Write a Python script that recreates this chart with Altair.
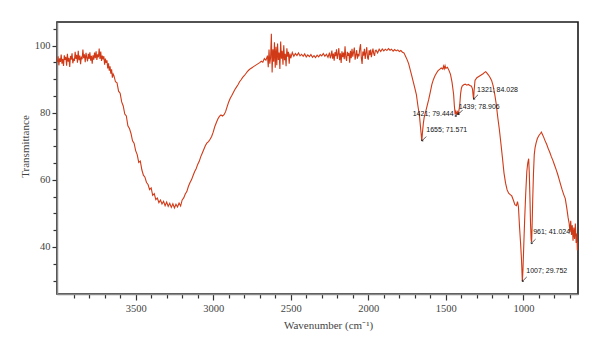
import altair as alt
import pandas as pd

# ---- spectrum (wavenumber cm-1, transmittance %) ----
wn = [
    4005, 4000, 3995, 3990, 3985, 3980, 3975, 3970, 3965, 3960, 3955, 3950, 3945, 3940, 3935,
    3930, 3925, 3920, 3915, 3910, 3905, 3900, 3895, 3890, 3885, 3880, 3875, 3870, 3865, 3860,
    3855, 3850, 3845, 3840, 3835, 3830, 3825, 3820, 3815, 3810, 3805, 3800, 3795, 3790, 3785,
    3780, 3775, 3770, 3765, 3760, 3755, 3750, 3745, 3740, 3735, 3730, 3725, 3720, 3715, 3710,
    3705, 3700, 3695, 3690, 3685, 3680, 3675, 3670, 3665, 3660, 3655, 3650, 3645,
    3640, 3630, 3620, 3610, 3600, 3590, 3580, 3570, 3560, 3550, 3540, 3530, 3520, 3510, 3500,
    3490, 3480, 3470, 3460, 3450, 3440, 3430, 3420, 3410, 3400, 3390, 3380, 3370, 3360, 3350,
    3340, 3330, 3320, 3310, 3300, 3290, 3280, 3270, 3260, 3250, 3240, 3230, 3220, 3210, 3200,
    3190, 3180, 3170, 3160, 3150, 3140, 3130, 3120, 3110, 3100, 3090, 3080, 3070, 3060, 3050,
    3040, 3030, 3020, 3010, 3000, 2990, 2980, 2970, 2960, 2950, 2940, 2930, 2920, 2910, 2900,
    2890, 2880, 2870, 2860, 2850, 2840, 2830, 2820, 2810, 2800, 2790, 2780, 2770, 2760, 2750,
    2740, 2730, 2720, 2710, 2700, 2690, 2680, 2670, 2660, 2650, 2645, 2640, 2635, 2630, 2625,
    2620, 2615, 2610, 2605, 2600, 2595, 2590, 2585, 2580, 2575, 2570, 2565, 2560, 2555, 2550,
    2545, 2540, 2535, 2530, 2525, 2520, 2515, 2510, 2505, 2500, 2490, 2480, 2470, 2460, 2450,
    2440, 2430, 2420, 2410, 2400, 2390, 2380, 2370, 2360, 2350, 2340, 2330, 2320, 2310, 2300,
    2290, 2280, 2270, 2260,
    2250, 2245, 2240, 2235, 2230, 2225, 2220, 2215, 2210, 2205, 2200, 2195, 2190, 2185, 2180,
    2175, 2170, 2165, 2160, 2155, 2150, 2145, 2140, 2135, 2130, 2125, 2120, 2115, 2110, 2105,
    2100, 2095, 2090, 2085, 2080, 2075, 2070, 2065, 2060, 2055, 2050, 2045, 2040, 2035, 2030,
    2025, 2020, 2015, 2010, 2005, 2000, 1995, 1990, 1985, 1980, 1975, 1970, 1965, 1960, 1955,
    1950, 1940, 1930, 1920, 1910, 1900, 1890, 1880, 1870, 1860, 1850,
    1840, 1830, 1820, 1810, 1800, 1790, 1780, 1770, 1760, 1750, 1740, 1730, 1720, 1710, 1700,
    1690, 1680, 1670, 1665, 1660, 1655, 1650, 1645, 1640, 1630, 1620, 1610, 1600, 1590, 1580,
    1570, 1560, 1550, 1540, 1530, 1520, 1515, 1510, 1505, 1500, 1490, 1480, 1470, 1460, 1450,
    1445, 1440, 1435, 1430, 1425, 1421, 1415, 1410, 1405, 1400, 1395, 1385, 1375, 1365, 1355,
    1345, 1335, 1328, 1324, 1321, 1318, 1312, 1300, 1290, 1280, 1270, 1260, 1250, 1243, 1235,
    1225, 1215, 1205, 1195, 1185, 1175, 1165, 1155, 1145, 1135, 1125, 1115, 1105, 1095, 1085,
    1075, 1065, 1055, 1045, 1038, 1032, 1025, 1018, 1012, 1007, 1003, 998, 992, 985, 978,
    972, 966, 962, 958, 954, 950, 947, 944, 940, 935, 930, 925, 918, 910, 900,
    890, 884, 878, 870, 860, 850, 840, 830, 820, 810, 800, 790, 780, 770, 760,
    750, 740, 730, 720, 712, 705, 700, 695, 690, 685, 680, 675, 670, 665, 660,
    656, 652, 648,
]
tr = [
    95.0, 96.8, 94.1, 96.2, 95.1, 97.3, 94.6, 96.0, 93.9, 97.1, 95.7, 96.6, 94.0, 97.5, 95.2,
    96.3, 93.6, 96.9, 95.8, 97.7, 94.7, 96.1, 95.4, 98.1, 96.0, 97.2, 94.9, 98.4, 95.6, 97.0,
    94.4, 96.7, 95.9, 98.8, 96.2, 97.4, 95.0, 97.8, 96.4, 95.3, 97.5, 96.0, 98.0, 95.5, 96.9,
    94.6, 97.1, 95.8, 97.9, 96.2, 98.3, 95.7, 97.4, 96.5, 99.1, 96.0, 98.2, 95.4, 97.0, 95.9,
    96.8, 94.3, 96.1, 94.8, 95.6, 93.2, 94.7, 92.5, 93.8, 91.6, 92.9, 90.4, 91.5,
    91.0, 89.2, 88.9, 86.4, 85.8, 83.2, 82.0, 79.6, 79.0, 76.1, 75.3, 73.8, 71.6, 70.9, 68.7,
    67.5, 65.2, 65.6, 63.0, 61.4, 60.8, 59.2, 58.6, 57.1, 57.6, 55.4, 55.9, 54.1, 54.6, 53.2,
    54.0, 52.8, 53.6, 52.3, 53.4, 52.1, 53.0, 51.8, 52.9, 51.6, 52.7, 51.9, 53.1, 52.2, 54.0,
    54.6, 55.8, 56.5, 58.0, 59.1, 60.0, 61.2, 62.4, 63.3, 64.6, 65.5, 66.9, 68.0, 69.1, 70.2,
    71.0, 71.4, 72.1, 72.9, 74.2, 75.8, 77.0, 78.1, 78.9, 79.3, 79.0, 79.4, 80.3, 81.8, 83.2,
    84.3, 85.1, 86.0, 86.9, 87.6, 88.3, 89.2, 89.8, 90.5, 91.0, 91.6, 92.2, 92.7, 93.1, 93.4,
    93.7, 94.0, 94.3, 94.6, 94.9, 95.3, 95.0, 96.1, 95.6, 97.0, 93.5, 98.8, 94.6, 96.4, 103.5,
    92.0, 98.9, 95.2, 101.0, 93.4, 99.6, 94.1, 100.6, 95.7, 97.9, 93.0, 101.2, 96.1, 98.4, 94.3,
    100.1, 95.6, 97.5, 93.8, 99.2, 96.7, 98.1, 94.6, 97.6, 96.2, 97.9, 96.8, 97.6, 97.0, 97.8,
    96.9, 97.4, 96.8, 97.5, 96.6, 97.2, 96.7, 97.3, 96.5, 97.0, 96.4, 97.1, 96.6, 97.3, 96.9,
    97.6, 96.8, 97.4, 96.5,
    97.9, 96.2, 97.0, 98.5, 96.1, 97.6, 95.5, 98.0, 96.8, 98.9, 96.0, 97.4, 99.2, 95.6, 97.7,
    94.8, 98.3, 96.5, 97.9, 95.9, 99.8, 96.6, 95.4, 98.1, 96.9, 97.8, 94.9, 98.4, 96.2, 99.0,
    96.7, 98.0, 99.4, 95.8, 97.2, 98.6, 96.1, 97.5, 96.8, 99.1, 100.4, 96.3, 94.5, 98.2, 97.0,
    99.0, 96.0, 97.8, 99.5, 96.4, 95.8, 98.6, 97.1, 98.8, 96.5, 97.9, 99.1, 97.6, 96.9, 98.4,
    98.6, 97.8, 98.9, 98.2, 99.0, 98.4, 98.9, 98.5, 99.1, 98.6, 98.9,
    98.3, 98.8, 98.4, 98.7, 98.2, 98.5, 98.0, 97.8, 96.8, 95.8, 94.6, 92.8, 91.0, 89.2, 87.3,
    85.4, 82.0, 79.0, 76.5, 74.0, 71.6, 74.5, 76.8, 78.5, 80.3, 82.2, 84.0, 86.2, 88.4, 89.9,
    91.0, 91.8, 92.5, 92.9, 93.3, 93.0, 93.9, 93.1, 94.0, 93.2, 93.5, 92.6, 91.4, 89.0, 85.5,
    82.0, 79.5, 80.4, 79.6, 80.2, 79.4, 80.8, 82.5, 85.6, 87.2, 87.9, 88.3, 88.5, 88.2, 88.4,
    88.1, 87.9, 87.0, 85.0, 84.0, 86.5, 89.6, 90.4, 90.7, 91.0, 91.3, 91.6, 92.0, 92.2, 91.8,
    91.2, 90.5, 89.6, 88.0, 85.5, 82.5, 78.5, 75.0, 70.8, 66.5, 62.0, 59.0, 57.0, 56.0, 55.6,
    55.2, 54.0, 52.6, 52.3, 53.5, 52.0, 46.0, 41.0, 36.0, 29.8, 33.0, 40.0, 48.0, 56.0, 62.5,
    65.0, 66.3, 62.0, 55.0, 47.0, 42.0, 41.5, 46.0, 54.0, 62.0, 67.5, 69.5, 71.0, 72.3, 73.2,
    73.8, 74.2, 73.6, 72.8, 71.6, 70.6, 69.3, 68.2, 66.9, 65.8, 64.5, 63.2, 61.8, 60.2, 58.6,
    57.0, 55.6, 54.4, 51.5, 48.8, 47.0, 44.5, 47.8, 43.6, 46.5, 41.9, 45.8, 42.4, 47.0, 41.2,
    44.0, 39.0, 41.5,
]
assert len(wn) == len(tr), (len(wn), len(tr))

# ---- peak annotations ----
ann_wn = [1655, 1421, 1439, 1321, 950, 1007]
ann_tr = [71.571, 79.444, 78.906, 84.028, 41.02, 29.752]
ann_text = ["1655; 71.571", "1421; 79.444", "1439; 78.906", "1321; 84.028", "961; 41.024", "1007; 29.752"]

# ---- axis ticks ----
x_ticks = list(range(700, 4000, 100))
y_ticks = list(range(30, 106, 5))

spec = pd.DataFrame({"wn": wn, "tr": tr})
ann = pd.DataFrame({"wn": ann_wn, "tr": ann_tr, "label": ann_text})

xscale = alt.Scale(domain=[648, 4007], reverse=True, nice=False, zero=False)
yscale = alt.Scale(domain=[26, 107], nice=False, zero=False)

serif = "Liberation Serif"

x_axis = alt.Axis(
    values=x_ticks,
    labelExpr="datum.value % 500 === 0 ? datum.label : ''",
    labelOverlap=False,
    format="d",
    title="Wavenumber (cm⁻¹)",
    grid=False,
    domainColor="#8a8a8a",
    domainWidth=1.5,
    tickColor="#333333",
    tickWidth=1.2,
    tickSize={"condition": {"test": "datum.value % 500 === 0", "value": 6}, "value": 4},
    labelFont=serif,
    labelFontSize=10.5,
    labelColor="#444444",
    labelPadding=3,
    titleFont=serif,
    titleFontSize=11,
    titleFontWeight="normal",
    titleColor="#444444",
    titleX=271,
    titleY=31,
    titleAlign="center",
    titleBaseline="middle",
)
y_axis = alt.Axis(
    values=y_ticks,
    labelExpr="datum.value % 20 === 0 ? datum.label : ''",
    labelOverlap=False,
    format="d",
    title="Transmittance",
    grid=False,
    domainColor="#8a8a8a",
    domainWidth=1.5,
    tickColor="#333333",
    tickWidth=1.2,
    tickSize={"condition": {"test": "datum.value % 20 === 0", "value": 5}, "value": 4},
    labelFont=serif,
    labelFontSize=10.5,
    labelColor="#444444",
    labelPadding=2,
    titleFont=serif,
    titleFontSize=11,
    titleFontWeight="normal",
    titleColor="#444444",
    titleAngle=-90,
    titleX=-32,
    titleY=124,
    titleAlign="center",
    titleBaseline="middle",
)

X = alt.X("wn:Q", scale=xscale, axis=x_axis)
Y = alt.Y("tr:Q", scale=yscale, axis=y_axis)

line = alt.Chart(spec).mark_line(color="#d03a17", strokeWidth=1.1, clip=True).encode(x=X, y=Y)

arrow_shape = "M-1,1L1,-1M-1,1L-0.25,0.95M-1,1L-0.95,0.25"
arrows = alt.Chart(ann).mark_point(
    shape=arrow_shape, size=20, filled=False, stroke="#111111", strokeWidth=0.7,
    xOffset=2.2, yOffset=-2.2, opacity=1,
).encode(x=X, y=Y)

# label offsets (pixels) relative to each annotated point
label_dx = [4.5, -4.5, 3.5, 3.5, 2.0, 4.0]
label_dy = [-10.5, -1.0, -9.5, -9.5, -11.5, -10.0]
label_align = ["left", "right", "left", "left", "left", "left"]

texts = []
for i in range(len(ann_text)):
    texts.append(
        alt.Chart(ann.iloc[[i]]).mark_text(
            align=label_align[i], baseline="middle", dx=label_dx[i], dy=label_dy[i],
            font="Liberation Sans", fontSize=7, color="#111111", clip=True,
        ).encode(x=X, y=Y, text="label:N")
    )

chart = alt.layer(line, arrows, *texts).properties(
    width=521,
    height=272,
    padding={"left": 57, "top": 22, "right": 22, "bottom": 58},
    autosize=alt.AutoSizeParams(type="none"),
    background="white",
).configure_view(
    stroke="#1a1a1a", strokeWidth=1.6
).configure_axis(
    labelOverlap=False
)

chart.save("out.html", embed_options={"renderer": "svg", "actions": False})
